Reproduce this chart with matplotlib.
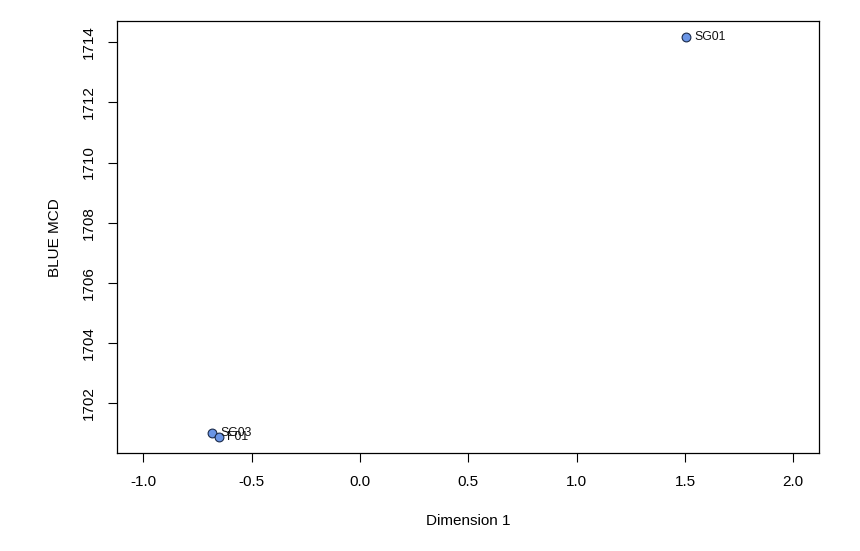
import matplotlib
matplotlib.use("Agg")
import matplotlib.pyplot as plt
import numpy as np

labels = ["SG01", "SG03", "F01"]
dim1 = [1.504, -0.683, -0.651]
blue_mcd = [1714.17, 1701.00, 1700.87]
xticks = [-1.0, -0.5, 0.0, 0.5, 1.0, 1.5, 2.0]
yticks = [1702, 1704, 1706, 1708, 1710, 1712, 1714]

plt.rcParams["font.family"] = ["Liberation Sans", "DejaVu Sans"]

fig = plt.figure(figsize=(8.6, 5.51), dpi=100)
ax = fig.add_axes([117.3/860, 1-453.3/551, (819.3-117.3)/860, (453.3-21)/551])

ax.scatter(dim1, blue_mcd, s=40, facecolor="#6a95e6", edgecolor="#1a2a4a", linewidth=0.8, zorder=3)
for x, y, t in zip(dim1, blue_mcd, labels):
    ax.annotate(t, (x, y), xytext=(6, 0), textcoords="offset points",
                va="center", ha="left", fontsize=8.8, color="#111111")

# R-style 4% padding
ax.set_xlim(-1.0 - 0.12, 2.0 + 0.12)
ymin, ymax = min(blue_mcd), max(blue_mcd)
pad = 0.04 * (ymax - ymin)
ax.set_ylim(ymin - pad, ymax + pad)

ax.set_xticks(xticks)
ax.set_xticklabels([f"{v:.1f}" for v in xticks])
ax.set_yticks(yticks)
ax.set_yticklabels([str(v) for v in yticks], rotation=90, va="center")
ax.tick_params(axis="both", length=6.7, width=0.8, labelsize=11, pad=9, color="black")
for s in ax.spines.values():
    s.set_linewidth(0.9)

ax.set_xlabel("Dimension 1", fontsize=11, labelpad=18)
ax.set_ylabel("BLUE MCD", fontsize=11, labelpad=14)

fig.savefig("out.png", dpi=100)
